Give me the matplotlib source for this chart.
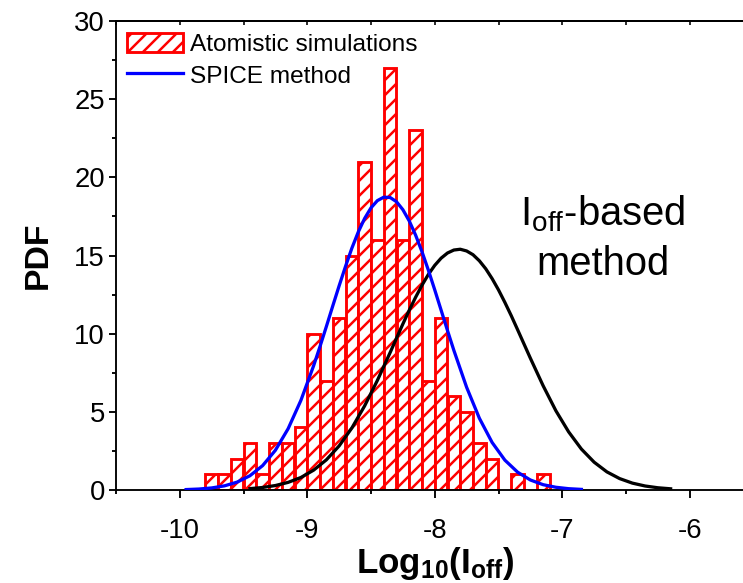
import matplotlib
matplotlib.use('Agg')
import matplotlib.pyplot as plt
from matplotlib.ticker import MultipleLocator

# ---------------- data ----------------
bin_left = [-9.8, -9.7, -9.6, -9.5, -9.4, -9.3, -9.2, -9.1, -9.0, -8.9, -8.8, -8.7,
            -8.6, -8.5, -8.4, -8.3, -8.2, -8.1, -8.0, -7.9, -7.8, -7.7, -7.6, -7.5,
            -7.4, -7.3, -7.2]
counts = [1, 1, 2, 3, 1, 3, 3, 4, 10, 7, 11, 15, 21, 16, 27, 16, 23, 7, 11, 6, 5, 3,
          2, 0, 1, 0, 1]
bin_width = 0.1

spice_x = [-9.95, -9.85, -9.75, -9.65, -9.55, -9.45, -9.35, -9.25, -9.15, -9.05,
           -8.95, -8.90, -8.85, -8.80, -8.75, -8.70, -8.65, -8.60, -8.55, -8.50,
           -8.45, -8.40, -8.35, -8.30, -8.25, -8.20, -8.15, -8.10, -8.05, -8.00,
           -7.95, -7.90, -7.85, -7.75, -7.65, -7.55, -7.45, -7.35, -7.25, -7.15,
           -7.05, -6.95, -6.85]
spice_y = [0.028, 0.062, 0.132, 0.264, 0.504, 0.91, 1.56, 2.54, 3.92, 5.73,
           7.95, 9.18, 10.46, 11.77, 13.06, 14.30, 15.47, 16.50, 17.37, 18.05,
           18.51, 18.73, 18.71, 18.44, 17.93, 17.21, 16.30, 15.24, 14.06, 12.80,
           11.50, 10.20, 8.93, 6.57, 4.59, 3.04, 1.91, 1.14, 0.64, 0.34,
           0.175, 0.084, 0.039]

ioff_x = [-9.45, -9.35, -9.25, -9.15, -9.05, -8.95, -8.85, -8.75, -8.65, -8.55,
          -8.45, -8.35, -8.30, -8.25, -8.20, -8.15, -8.10, -8.05, -8.00, -7.95,
          -7.90, -7.85, -7.80, -7.75, -7.70, -7.65, -7.60, -7.55, -7.50, -7.45,
          -7.40, -7.35, -7.30, -7.25, -7.15, -7.05, -6.95, -6.85, -6.75, -6.65,
          -6.55, -6.45, -6.35, -6.25, -6.15]
ioff_y = [0.087, 0.161, 0.286, 0.488, 0.80, 1.27, 1.93, 2.82, 3.97, 5.38,
          7.01, 8.79, 9.71, 10.62, 11.50, 12.33, 13.10, 13.79, 14.37, 14.83,
          15.16, 15.35, 15.40, 15.29, 15.05, 14.66, 14.15, 13.52, 12.80, 12.00,
          11.15, 10.25, 9.34, 8.43, 6.67, 5.07, 3.72, 2.62, 1.78, 1.16,
          0.73, 0.44, 0.256, 0.143, 0.077]

legend_labels = ['Atomistic simulations', 'SPICE method']
x_ticks = [-10, -9, -8, -7, -6]
y_ticks = [0, 5, 10, 15, 20, 25, 30]

# ---------------- style ----------------
plt.rcParams['font.family'] = ['Liberation Sans', 'DejaVu Sans']
plt.rcParams['mathtext.fontset'] = 'custom'
plt.rcParams['mathtext.rm'] = 'Liberation Sans'
plt.rcParams['mathtext.it'] = 'Liberation Sans:italic'
plt.rcParams['mathtext.bf'] = 'Liberation Sans:bold'
plt.rcParams['axes.unicode_minus'] = False
plt.rcParams['hatch.linewidth'] = 2.0

DPI = 90
fig = plt.figure(figsize=(743 / DPI, 583 / DPI), dpi=DPI)
W, H = 743.0, 583.0
ax_left, ax_right, ax_top, ax_bottom = 116, 753.5, 21, 490
ax = fig.add_axes([ax_left / W, 1 - ax_bottom / H, (ax_right - ax_left) / W,
                   (ax_bottom - ax_top) / H])

# histogram bars (skip empty bins)
bx = [b for b, c in zip(bin_left, counts) if c > 0]
bc = [c for c in counts if c > 0]
bars = ax.bar(bx, bc, width=bin_width, align='edge', facecolor='white',
              edgecolor='#ff0000', hatch='//', linewidth=2.3, zorder=1,
              label=legend_labels[0])

ax.plot(ioff_x, ioff_y, color='black', linewidth=2.6, zorder=3)
line_spice, = ax.plot(spice_x, spice_y, color='#0000ff', linewidth=2.6, zorder=4,
                      label=legend_labels[1])

ax.set_xlim(-10.5, -5.5)
ax.set_ylim(0, 30)
ax.set_xticks(x_ticks)
ax.set_yticks(y_ticks)
ax.xaxis.set_minor_locator(MultipleLocator(0.5))
ax.yaxis.set_minor_locator(MultipleLocator(2.5))

for sp in ax.spines.values():
    sp.set_linewidth(1.5)

ax.tick_params(axis='both', which='major', direction='out', length=6, width=1.5,
               labelsize=22, pad=3)
ax.tick_params(axis='both', which='minor', direction='out', length=3.5, width=1.5)
ax.tick_params(axis='x', which='major', pad=16)

secax = ax.secondary_xaxis('top')
secax.xaxis.set_major_locator(MultipleLocator(0.5))
secax.tick_params(axis='x', which='both', direction='in', length=3, width=1.3,
                  labeltop=False)
secax.spines['top'].set_linewidth(1.5)

ax.set_xlabel(r'$\mathbf{Log_{10}(I_{off})}$', fontsize=28, labelpad=1)
ax.set_ylabel('PDF', fontsize=27, fontweight='bold', labelpad=16)

ax.text(0.764, 0.565, r'$\mathregular{I_{off}}$-based', transform=ax.transAxes,
        ha='center', va='baseline', fontsize=32)
ax.text(0.764, 0.458, 'method', transform=ax.transAxes,
        ha='center', va='baseline', fontsize=32)

leg = ax.legend([bars, line_spice], legend_labels, loc='upper left',
                bbox_to_anchor=(0.017, 0.975), frameon=False,
                fontsize=19.5, handlelength=2.3, handleheight=0.85,
                handletextpad=0.3, labelspacing=0.35, borderpad=0,
                borderaxespad=0)

fig.savefig('out.png', dpi=DPI)
